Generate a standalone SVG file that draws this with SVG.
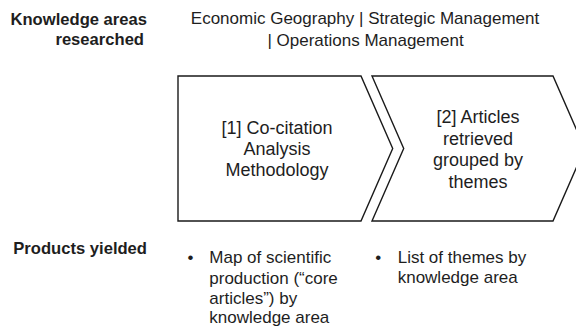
<svg xmlns="http://www.w3.org/2000/svg" width="576" height="326" viewBox="0 0 576 326">
<style>
  text { font-family: "Liberation Sans", Arial, sans-serif; fill: #1e1e1e; }
  .lbl { font-weight: bold; font-size: 16.6px; text-anchor: end; }
  .hdr { font-size: 17px; text-anchor: middle; }
  .box { font-size: 18px; text-anchor: middle; }
  .item { font-size: 17px; }
  .chev { fill: #ffffff; stroke: #1a1a1a; stroke-width: 1.4; stroke-linejoin: miter; }
</style>
<rect width="576" height="326" fill="#ffffff"/>
<g id="label-areas">
  <text class="lbl" x="147" y="25">Knowledge areas</text>
  <text class="lbl" x="144" y="45">researched</text>
</g>
<g id="header">
  <text class="hdr" x="365" y="24">Economic Geography | Strategic Management</text>
  <text class="hdr" x="365.5" y="45.5">| Operations Management</text>
</g>
<g id="step1">
  <polygon class="chev" points="178,76 361,76 392.7,148.5 361,221 178,221"/>
  <text class="box" x="277" y="133.5">[1] Co-citation</text>
  <text class="box" x="277" y="154.5">Analysis</text>
  <text class="box" x="277" y="175.5">Methodology</text>
</g>
<g id="step2">
  <polygon class="chev" points="372,76 553,76 584.7,148.5 553,221 372,221 403.7,148.5"/>
  <text class="box" x="478" y="123.3">[2] Articles</text>
  <text class="box" x="478" y="144.8">retrieved</text>
  <text class="box" x="478" y="166.3">grouped by</text>
  <text class="box" x="478" y="187.8">themes</text>
</g>
<g id="connectors"></g>
<g id="label-products">
  <text class="lbl" x="147" y="254">Products yielded</text>
</g>
<g id="products1">
  <text class="item" x="187.5" y="263.3">•</text>
  <text class="item" x="209.3" y="263.3">Map of scientific</text>
  <text class="item" x="209.3" y="283.5">production (“core</text>
  <text class="item" x="209.3" y="303.5">articles”) by</text>
  <text class="item" x="209.3" y="323.3">knowledge area</text>
</g>
<g id="products2">
  <text class="item" x="375.3" y="263.3">•</text>
  <text class="item" x="397.7" y="263.3">List of themes by</text>
  <text class="item" x="397.7" y="283">knowledge area</text>
</g>
</svg>
